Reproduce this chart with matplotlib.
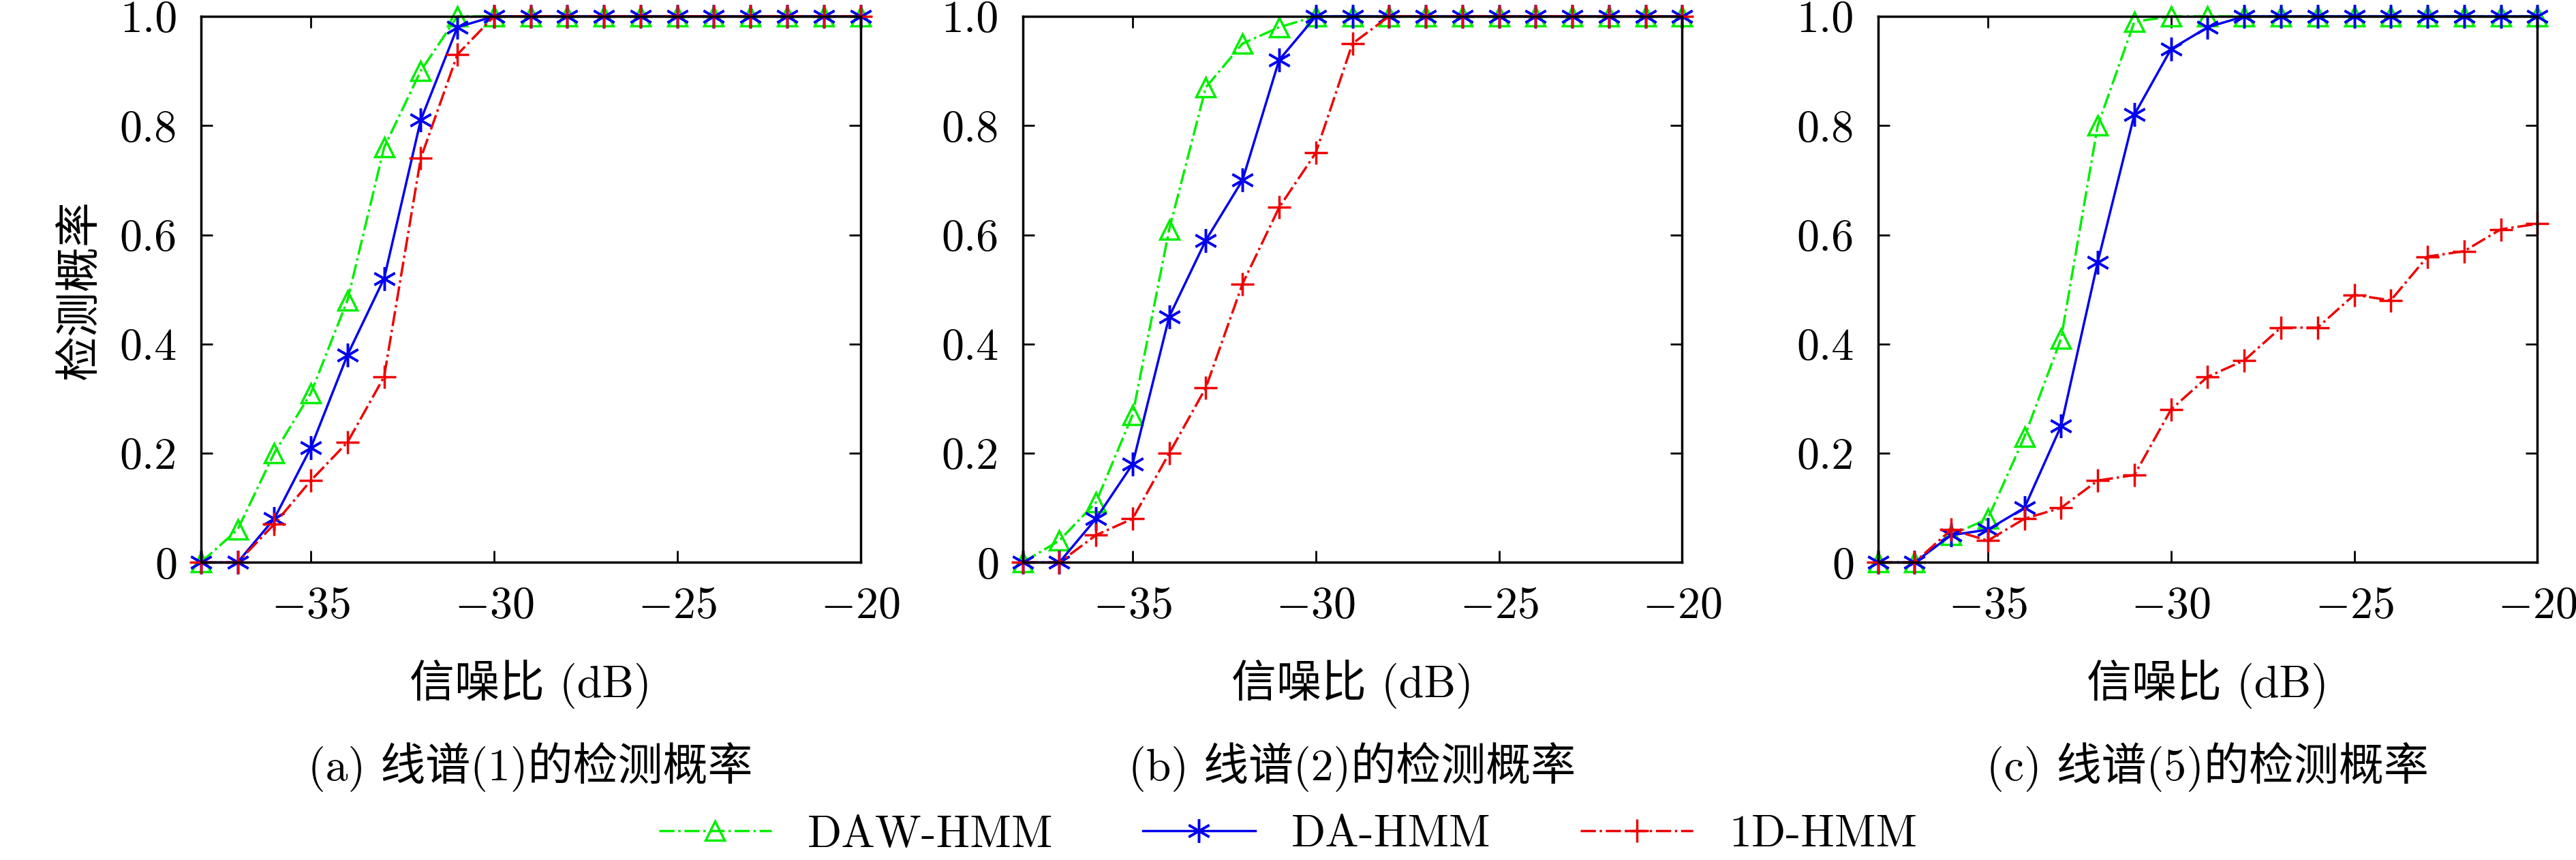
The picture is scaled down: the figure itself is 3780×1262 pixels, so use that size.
import matplotlib
matplotlib.use('Agg')
import numpy as np
import matplotlib.pyplot as plt
import matplotlib.ticker as ticker

plt.rcParams['font.family'] = ['cmr10', 'Noto Sans CJK SC', 'DejaVu Sans']
plt.rcParams['mathtext.fontset'] = 'cm'
plt.rcParams['axes.formatter.use_mathtext'] = True

snr = np.arange(-38, -19)

# panel (a)
daw_a = [0, 0.06, 0.20, 0.31, 0.48, 0.76, 0.90, 1.0] + [1.0] * 11
da_a = [0, 0, 0.08, 0.21, 0.38, 0.52, 0.81, 0.98] + [1.0] * 11
hmm_a = [0, 0, 0.07, 0.15, 0.22, 0.34, 0.74, 0.93] + [1.0] * 11
# panel (b)
daw_b = [0, 0.04, 0.11, 0.27, 0.61, 0.87, 0.95, 0.98] + [1.0] * 11
da_b = [0, 0, 0.08, 0.18, 0.45, 0.59, 0.70, 0.92] + [1.0] * 11
hmm_b = [0, 0, 0.05, 0.08, 0.20, 0.32, 0.51, 0.65, 0.75, 0.95] + [1.0] * 9
# panel (c)
daw_c = [0, 0, 0.05, 0.08, 0.23, 0.41, 0.80, 0.99, 1.0, 1.0] + [1.0] * 9
da_c = [0, 0, 0.05, 0.06, 0.10, 0.25, 0.55, 0.82, 0.94, 0.98] + [1.0] * 9
hmm_c = [0, 0, 0.06, 0.04, 0.08, 0.10, 0.15, 0.16, 0.28, 0.34, 0.37,
         0.43, 0.43, 0.49, 0.48, 0.56, 0.57, 0.61, 0.62]

captions = ['(a) 线谱(1)的检测概率', '(b) 线谱(2)的检测概率', '(c) 线谱(5)的检测概率']
panels = [(daw_a, da_a, hmm_a), (daw_b, da_b, hmm_b), (daw_c, da_c, hmm_c)]
lefts = [0.078, 0.397, 0.729]

fig = plt.figure(figsize=(15.12, 5.048), dpi=250)
fs = 19
handles = None
for i, (daw, da, hmm) in enumerate(panels):
    ax = fig.add_axes([lefts[i], 0.346, 0.256, 0.635])
    h1, = ax.plot(snr, daw, color='#00ee00', ls='-.', lw=1.0, marker='^', ms=8,
                  mfc='none', mew=1.0, clip_on=False, label='DAW-HMM')
    h2, = ax.plot(snr, da, color='#0000ee', ls='-', lw=1.0, marker=(6, 2, 0), ms=10,
                  mew=1.0, clip_on=False, label='DA-HMM')
    h3, = ax.plot(snr, hmm, color='#ee0000', ls='-.', lw=1.0, marker='+', ms=10,
                  mew=1.0, clip_on=False, label='1D-HMM')
    handles = [h1, h2, h3]
    ax.set_xlim(-38, -20)
    ax.set_ylim(0, 1)
    ax.set_xticks([-35, -30, -25, -20])
    ax.set_yticks([0, 0.2, 0.4, 0.6, 0.8, 1.0])
    ax.set_yticklabels(['0', '0.2', '0.4', '0.6', '0.8', '1.0'])
    ax.tick_params(direction='in', top=True, right=True, labelsize=fs, length=5, pad=10)
    for s in ax.spines.values():
        s.set_linewidth(1.0)
    ax.set_xlabel('信噪比 (dB)', fontsize=fs, labelpad=14)
    if i == 0:
        ax.set_ylabel('检测概率', fontsize=fs, labelpad=8)
    fig.text(lefts[i] + 0.128, 0.108, captions[i], ha='center', va='center', fontsize=fs)

fig.legend(handles=handles, loc='center', bbox_to_anchor=(0.5, 0.029), ncol=3,
           frameon=False, fontsize=fs, handlelength=2.5, columnspacing=2.0)
fig.savefig('out.png', dpi=250, facecolor='white')
